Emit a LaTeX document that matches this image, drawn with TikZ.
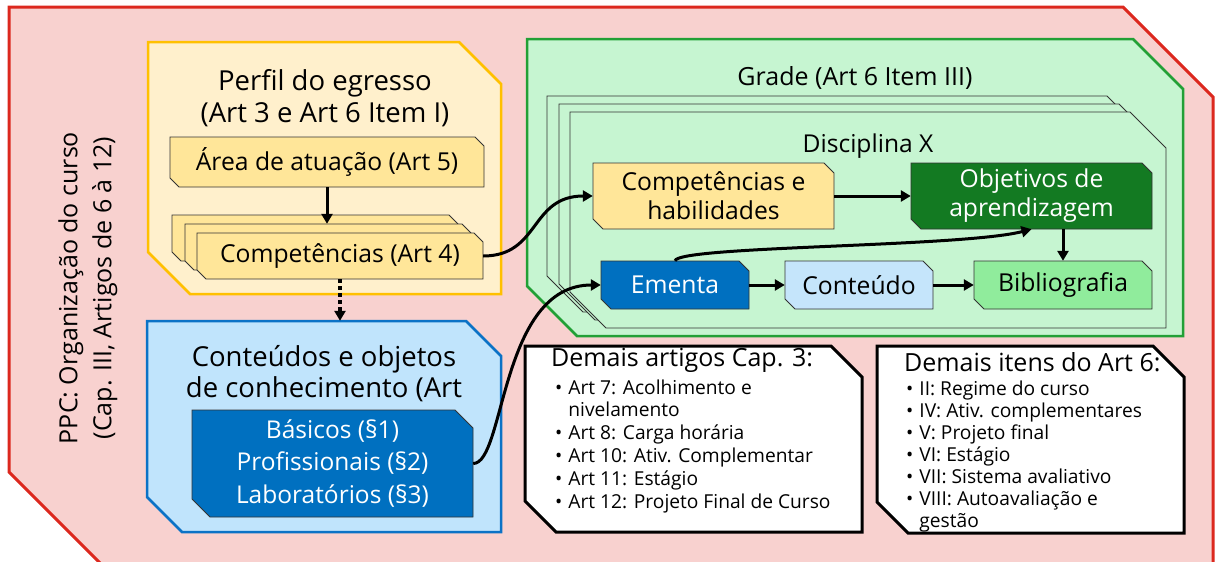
\documentclass[tikz,border=0pt]{standalone}
\usepackage{fontspec}
\setmainfont{Open Sans}
\usetikzlibrary{arrows.meta}
\definecolor{redB}{HTML}{DC281E}
\definecolor{redF}{HTML}{F8D1CF}
\definecolor{yelB}{HTML}{FFC000}
\definecolor{yelF}{HTML}{FFF0CC}
\definecolor{gold}{HTML}{FFE699}
\definecolor{bluB}{HTML}{0B72C6}
\definecolor{bluF}{HTML}{C0E4FC}
\definecolor{dblue}{HTML}{0070C0}
\definecolor{grnB}{HTML}{22A036}
\definecolor{grnF}{HTML}{C6F5D1}
\definecolor{dgreen}{HTML}{137A22}
\definecolor{lgreen}{HTML}{90EC9C}
\definecolor{lblue}{HTML}{C5E5FB}
\definecolor{edge}{HTML}{333333}
\newcommand{\cbox}[9]{%
  \path[#2] (#4,#5) -- ({#6-#8},#5) -- (#6,{#5+#8}) -- (#6,#7) -- ({#4+#8},#7) -- (#4,{#7-#8}) -- cycle;
  \node[inner sep=0pt, minimum width={#6-#4}, minimum height={#7-#5}, align=center, #3] (#1) at ({(#4+#6)/2},{(#5+#7)/2}) {#9};
}
\newcommand{\fs}[2]{\fontsize{#1}{#2}\selectfont}
\tikzset{
  inner/.style={draw=edge, line width=0.9pt},
  outline/.style={draw=edge, line width=0.8pt, fill=grnF},
  arr/.style={line width=3pt, -{Triangle[length=10pt,width=11pt]}},
  dotarr/.style={line width=4pt, dash pattern=on 4pt off 3pt, -{Triangle[length=10pt,width=11pt]}},
  big/.style={font=\fs{27.5}{32}},
  mid/.style={font=\fs{24.7}{29}},
  txt/.style={inner sep=0pt, align=center},
}
\begin{document}
\begin{tikzpicture}[x=1pt, y=-1pt]
\useasboundingbox (0,0) rectangle (1216,562);
\clip (0,0) rectangle (1216,562);
% outer red shape
\path[fill=redF, draw=redB, line width=3pt] (9,7) -- (1123,7) -- (1213,97) -- (1213,580) -- (117,580) -- (9,472) -- cycle;
\node[txt, rotate=90, font=\fs{25}{34}] (ppc) at (88,288) {PPC: Organização do curso\\(Cap. III, Artigos de 6 à 12)};
% yellow container
\cbox{perfil}{fill=yelF, draw=yelB, line width=2.5pt}{}{148}{42}{501}{294}{42}{}
\node[txt, big] (perfilt) at (325,98) {Perfil do egresso\\(Art 3 e Art 6 Item I)};
\cbox{area}{fill=gold, inner}{mid}{170}{137}{484}{187}{9}{Área de atuação (Art 5)}
\cbox{compa}{fill=gold, inner}{}{172}{215}{458}{261}{9}{}
\cbox{compb}{fill=gold, inner}{}{185}{224}{471}{270}{9}{}
\cbox{comp}{fill=gold, inner}{mid}{197}{233}{483}{279}{9}{Competências (Art 4)}
% blue container
\cbox{conh}{fill=bluF, draw=bluB, line width=2.5pt}{}{147}{321}{501}{532}{35}{}
\node[txt, big, font=\fs{27.5}{31}] (conht) at (324,374) {Conteúdos e objetos\\de conhecimento (Art};
\cbox{basicos}{fill=dblue, inner}{text=white, font=\fs{24.5}{32.5}}{192}{410}{473}{517}{18}{Básicos (§1)\\Profissionais (§2)\\Laboratórios (§3)}
% green container
\cbox{grade}{fill=grnF, draw=grnB, line width=2.5pt}{}{527}{39}{1183}{336}{50}{}
\node[txt, font=\fs{25}{28}] (gradet) at (855,78) {Grade (Art 6 Item III)};
\cbox{disca}{outline}{}{547}{96}{1143}{312}{36}{}
\cbox{discb}{outline}{}{559}{104}{1155}{320}{36}{}
\cbox{disc}{outline}{}{570}{112}{1166}{328}{36}{}
\node[txt, font=\fs{24.6}{28}] (disct) at (868,146) {Disciplina X};
\cbox{comphab}{fill=gold, inner}{mid}{593}{163}{834}{229}{10}{Competências e\\habilidades}
\cbox{obj}{fill=dgreen, inner}{mid, text=white}{911}{163}{1152}{229}{10}{Objetivos de\\aprendizagem}
\cbox{ementa}{fill=dblue, inner}{mid, text=white}{601}{261}{749}{309}{10}{Ementa}
\cbox{conteudo}{fill=lblue, inner}{mid}{785}{261}{933}{309}{10}{Conteúdo}
\cbox{bib}{fill=lgreen, inner}{mid}{974}{261}{1152}{309}{10}{Bibliografia}
% white boxes
\cbox{demart}{fill=white, draw=black, line width=3pt}{}{525}{346}{862}{532}{31}{}
\node[anchor=base west, inner sep=0pt, font=\fs{25}{28}] (demartt) at (551,366) {Demais artigos Cap. 3:};
\node[anchor=base west, inner sep=0pt, font=\fs{19.2}{22.8}] (demartl) at (555,394) {\begin{tabular}[t]{@{}l@{\hspace{6pt}}l@{}}
\textbullet & Art 7: Acolhimento e\\
 & nivelamento\\
\textbullet & Art 8: Carga horária\\
\textbullet & Art 10: Ativ. Complementar\\
\textbullet & Art 11: Estágio\\
\textbullet & Art 12: Projeto Final de Curso
\end{tabular}};
\cbox{demit}{fill=white, draw=black, line width=3pt}{}{877}{346}{1184}{533}{31}{}
\node[anchor=base west, inner sep=0pt, font=\fs{25}{28}] (demitt) at (904,371) {Demais itens do Art 6:};
\node[anchor=base west, inner sep=0pt, font=\fs{19.2}{22}] (demitl) at (906,395) {\begin{tabular}[t]{@{}l@{\hspace{6pt}}l@{}}
\textbullet & II: Regime do curso\\
\textbullet & IV: Ativ. complementares\\
\textbullet & V: Projeto final\\
\textbullet & VI: Estágio\\
\textbullet & VII: Sistema avaliativo\\
\textbullet & VIII: Autoavaliação e\\
 & gestão
\end{tabular}};
% connectors
\draw[arr] (area.south) -- (area.south |- compb.north);
\draw[dotarr] (comp.south) -- (comp.south |- conh.north);
\draw[arr] (comp.east) .. controls +(57,0) and +(-63,0) .. (comphab.west);
\draw[arr] (basicos.east) .. controls +(32,0) and +(-101,0) .. (ementa.west);
\draw[arr] (comphab.east) -- (obj.west);
\draw[arr] (ementa.east) -- (conteudo.west);
\draw[arr] (conteudo.east) -- (bib.west);
\draw[arr] (bib.north |- obj.south) -- (bib.north);
\draw[arr] (ementa.north) .. controls +(3,-15) and +(-70,18) .. (obj.south);
\end{tikzpicture}
\end{document}
